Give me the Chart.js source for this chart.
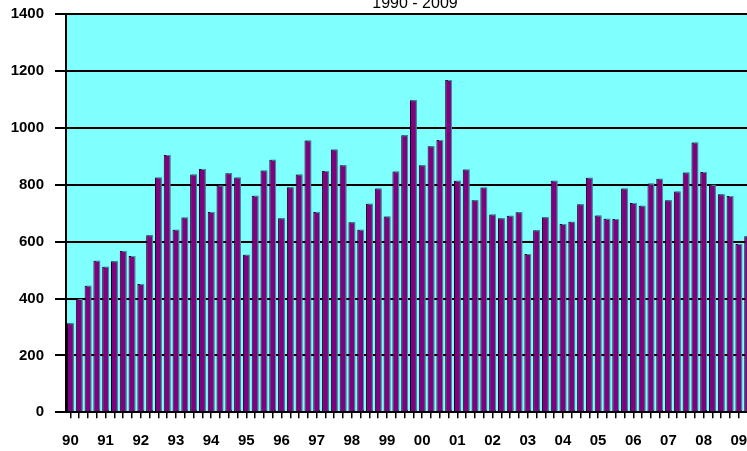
<!DOCTYPE html>
<html>
<head>
<meta charset="utf-8">
<script src="https://cdn.jsdelivr.net/npm/chart.js@4.4.1/dist/chart.umd.min.js"></script>
<style>
  html, body { margin: 0; padding: 0; background: #fff; overflow: hidden; }
  #wrap { width: 747px; height: 451px; overflow: hidden; }
  canvas { display: block; }
</style>
</head>
<body>
<div id="wrap">
  <canvas id="chart" width="752" height="451"></canvas>
</div>
<script>
// quarterly values, 1990 Q1 .. 2009 Q2
const values = [
  313, 398, 445, 533,
  512, 531, 567, 549,
  451, 622, 825, 904,
  642, 685, 836, 855,
  704, 797, 840, 825,
  554, 761, 850, 888,
  682, 791, 836, 955,
  704, 848, 924, 868,
  668, 642, 733, 787,
  688, 846, 974, 1097,
  868, 935, 957, 1168,
  814, 853, 745, 790,
  695, 682, 691, 703,
  556, 640, 686, 814,
  662, 670, 731, 824,
  692, 680, 679, 787,
  736, 726, 804, 821,
  745, 776, 843, 948,
  845, 800, 766, 760,
  592, 619
];
const yearLabels = ['90','91','92','93','94','95','96','97','98','99',
                    '00','01','02','03','04','05','06','07','08','09'];
const quarters = ['Q1','Q2','Q3','Q4'];
const yTicks = [0, 200, 400, 600, 800, 1000, 1200, 1400];
const titleText = '1990 - 2009';

const categories = values.map((v, i) => yearLabels[Math.floor(i / 4)] + ' ' + quarters[i % 4]);

const fontFamily = '"Liberation Sans", Arial, sans-serif';

// cyan plot background + title + bar shadow
const extras = {
  id: 'extras',
  beforeDraw(chart) {
    const { ctx, chartArea } = chart;
    ctx.save();
    ctx.fillStyle = '#80ffff';
    ctx.fillRect(chartArea.left, chartArea.top, chartArea.right - chartArea.left, chartArea.bottom - chartArea.top);
    ctx.restore();
  },
  beforeDatasetsDraw(chart) {
    const ctx = chart.ctx;
    ctx.save();
    ctx.shadowColor = '#3a9c9c';
    ctx.shadowOffsetX = 1.5;
    ctx.shadowOffsetY = -1;
    ctx.shadowBlur = 0;
  },
  afterDatasetsDraw(chart) {
    chart.ctx.restore();
  },
  afterDraw(chart) {
    const ctx = chart.ctx;
    ctx.save();
    ctx.font = '16px ' + fontFamily;
    ctx.fillStyle = '#000';
    ctx.textAlign = 'center';
    ctx.textBaseline = 'alphabetic';
    ctx.fillText(titleText, 415, 8);
    ctx.restore();
  }
};

new Chart(document.getElementById('chart'), {
  type: 'bar',
  data: {
    labels: categories,
    datasets: [{
      data: values,
      backgroundColor: '#800080',
      borderColor: '#1a001a',
      borderWidth: 1,
      borderSkipped: 'bottom',
      categoryPercentage: 1,
      barPercentage: 0.77
    }]
  },
  options: {
    responsive: false,
    animation: false,
    devicePixelRatio: 1,
    layout: { padding: { left: 10, top: 14, right: 0, bottom: 0 } },
    plugins: {
      legend: { display: false },
      tooltip: { enabled: false },
      title: { display: false }
    },
    scales: {
      x: {
        offset: true,
        grid: {
          display: true,
          drawOnChartArea: false,
          drawTicks: true,
          offset: false,
          tickLength: 6,
          color: '#000',
          lineWidth: 1.5
        },
        border: { display: true, color: '#000', width: 2 },
        ticks: {
          autoSkip: false,
          maxRotation: 0,
          minRotation: 0,
          padding: 14,
          color: '#000',
          font: { family: fontFamily, size: 15, weight: 'bold' },
          callback: (val, i) => (i % 4 === 0 ? yearLabels[i / 4] : '')
        },
        afterFit: (scale) => {
          scale.height = 38.7;
          scale.paddingLeft = 0;
          scale.paddingRight = 0;
        }
      },
      y: {
        min: 0,
        max: 1400,
        afterBuildTicks: (scale) => { scale.ticks = yTicks.map(v => ({ value: v })); },
        grid: {
          color: '#000',
          lineWidth: 2,
          tickLength: 11
        },
        border: { display: true, color: '#000', width: 2 },
        ticks: {
          padding: 11,
          color: '#000',
          font: { family: fontFamily, size: 15, weight: 'bold' },
          callback: (v) => String(v)
        },
        afterFit: (scale) => {
          scale.width = 56;
          scale.paddingTop = 0;
          scale.paddingBottom = 0;
        }
      }
    }
  },
  plugins: [extras]
});
</script>
</body>
</html>
